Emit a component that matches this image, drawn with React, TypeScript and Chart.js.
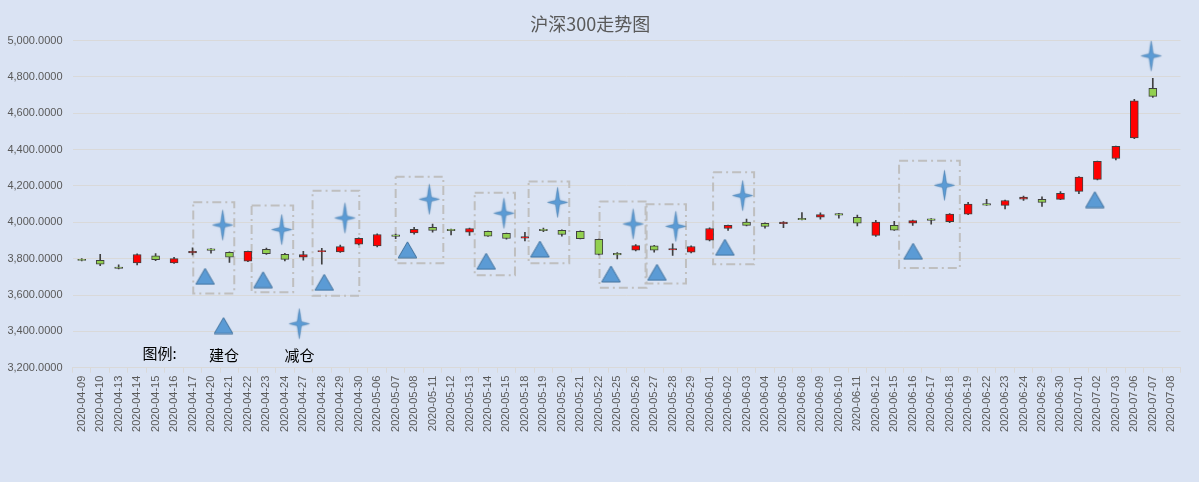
import { useEffect, useRef } from "react";
import { Chart, registerables } from "chart.js";

Chart.register(...registerables);

// trading days on the category axis
const dates = [
  "2020-04-09", "2020-04-10", "2020-04-13", "2020-04-14", "2020-04-15", "2020-04-16",
  "2020-04-17", "2020-04-20", "2020-04-21", "2020-04-22", "2020-04-23", "2020-04-24",
  "2020-04-27", "2020-04-28", "2020-04-29", "2020-04-30", "2020-05-06", "2020-05-07",
  "2020-05-08", "2020-05-11", "2020-05-12", "2020-05-13", "2020-05-14", "2020-05-15",
  "2020-05-18", "2020-05-19", "2020-05-20", "2020-05-21", "2020-05-22", "2020-05-25",
  "2020-05-26", "2020-05-27", "2020-05-28", "2020-05-29", "2020-06-01", "2020-06-02",
  "2020-06-03", "2020-06-04", "2020-06-05", "2020-06-08", "2020-06-09", "2020-06-10",
  "2020-06-11", "2020-06-12", "2020-06-15", "2020-06-16", "2020-06-17", "2020-06-18",
  "2020-06-19", "2020-06-22", "2020-06-23", "2020-06-24", "2020-06-29", "2020-06-30",
  "2020-07-01", "2020-07-02", "2020-07-03", "2020-07-06", "2020-07-07", "2020-07-08",
];

const openPrices = [
  3796, 3791, 3754, 3776, 3816, 3776, 3832, 3854, 3835, 3786, 3852, 3824,
  3808, 3838, 3837, 3880, 3870, 3931, 3942, 3972, 3962, 3946, 3950, 3940,
  3913, 3962, 3956, 3951, 3906, 3829, 3847, 3870, 3848, 3836, 3902, 3966,
  4002, 3994, 3992, 4022, 4029, 4048, 4028, 3928, 3984, 3996, 4019, 4004,
  4045, 4103, 4093, 4127, 4126, 4126, 4170, 4236, 4351, 4464, 4738, null,
];
const closePrices = [
  3791, 3770, 3746, 3823, 3795, 3800, 3841, 3846, 3808, 3840, 3828, 3796,
  3823, 3845, 3866, 3912, 3933, 3922, 3962, 3955, 3954, 3966, 3924, 3911,
  3922, 3954, 3933, 3910, 3823, 3821, 3872, 3847, 3856, 3867, 3966, 3983,
  3983, 3977, 4001, 4014, 4043, 4040, 3995, 4001, 3957, 4010, 4011, 4046,
  4100, 4095, 4120, 4139, 4109, 4160, 4249, 4335, 4418, 4668, 4693, null,
];
const highPrices = [
  3800, 3824, 3766, 3826, 3828, 3808, 3860, 3855, 3838, 3842, 3858, 3830,
  3840, 3857, 3875, 3915, 3936, 3935, 3972, 3990, 3963, 3969, 3952, 3941,
  3945, 3968, 3958, 3953, 3908, 3833, 3878, 3873, 3882, 3870, 3970, 3985,
  4018, 3997, 4004, 4053, 4052, 4049, 4040, 4011, 4006, 4012, 4020, 4048,
  4110, 4127, 4123, 4145, 4140, 4169, 4252, 4337, 4420, 4677, 4793, null,
];
const lowPrices = [
  3788, 3762, 3744, 3765, 3789, 3774, 3820, 3830, 3780, 3783, 3823, 3787,
  3792, 3770, 3834, 3876, 3865, 3910, 3935, 3946, 3930, 3928, 3922, 3907,
  3897, 3949, 3924, 3908, 3820, 3799, 3842, 3836, 3818, 3832, 3898, 3955,
  3980, 3968, 3970, 4013, 4018, 4023, 3980, 3923, 3955, 3983, 3990, 3998,
  4042, 4093, 4074, 4120, 4087, 4124, 4158, 4233, 4343, 4460, 4687, null,
];

// 建仓 (triangle) and 减仓 (star) markers, x in category-index units
const buildX = [6.68, 9.82, 13.13, 17.64, 21.9, 24.81, 28.66, 31.15, 34.83, 45.02, 54.86];
const buildY = [3703, 3684, 3670, 3849, 3786, 3853, 3716, 3725, 3863, 3841, 4125];
const reduceX = [7.63, 10.83, 14.25, 18.82, 22.86, 25.77, 29.86, 32.17, 35.79, 46.72, 57.91];
const reduceY = [3985, 3960, 4024, 4127, 4050, 4110, 3991, 3978, 4147, 4204, 4916];

// dashed frames around each trade
const frameLeft = [6.04, 9.2, 12.5, 17.0, 21.28, 24.2, 28.04, 30.53, 34.19, 44.26];
const frameRight = [8.26, 11.45, 15.03, 19.58, 23.46, 26.4, 30.59, 32.72, 36.41, 47.55];
const frameTop = [4110, 4092, 4174, 4251, 4163, 4224, 4114, 4099, 4276, 4339];
const frameBottom = [3609, 3615, 3596, 3775, 3709, 3775, 3640, 3664, 3769, 3749];

// legend drawn inside the plot
const legendTexts = ["图例:", "建仓", "减仓"];
const legendTextX = [4.21, 7.7, 11.79];
const legendTextY = [3278, 3268, 3268];
const legendBuild = { x: 7.68, y: 3432 };
const legendReduce = { x: 11.78, y: 3442 };

const RED = "#FF0000";
const GREEN = "#92D050";
const EDGE = "#404040";

function makeTriangle() {
  const c = document.createElement("canvas");
  c.width = 21;
  c.height = 18;
  const ctx = c.getContext("2d")!;
  ctx.beginPath();
  ctx.moveTo(10.5, 1);
  ctx.lineTo(19.8, 17);
  ctx.lineTo(1.2, 17);
  ctx.closePath();
  ctx.fillStyle = "#5B9BD5";
  ctx.fill();
  ctx.strokeStyle = "#41719C";
  ctx.lineWidth = 1;
  ctx.stroke();
  return c;
}

function makeStar() {
  const c = document.createElement("canvas");
  c.width = 23;
  c.height = 33;
  const ctx = c.getContext("2d")!;
  const cx = 11.5;
  const cy = 16.5;
  const a = 2;
  ctx.beginPath();
  ctx.moveTo(cx, cy - 15);
  ctx.lineTo(cx + a, cy - a);
  ctx.lineTo(cx + 10, cy);
  ctx.lineTo(cx + a, cy + a);
  ctx.lineTo(cx, cy + 15);
  ctx.lineTo(cx - a, cy + a);
  ctx.lineTo(cx - 10, cy);
  ctx.lineTo(cx - a, cy - a);
  ctx.closePath();
  ctx.shadowColor = "rgba(91,155,213,0.7)";
  ctx.shadowBlur = 2;
  ctx.fillStyle = "#5B9BD5";
  ctx.fill();
  ctx.shadowBlur = 0;
  ctx.strokeStyle = "rgba(65,113,156,0.5)";
  ctx.lineWidth = 0.8;
  ctx.stroke();
  return c;
}

const legendTextPlugin = {
  id: "legendText",
  afterDatasetsDraw(chart: any) {
    const { ctx } = chart;
    const xs = chart.scales.x2;
    const ys = chart.scales.y;
    ctx.save();
    ctx.fillStyle = "#000000";
    ctx.font = "15px 'Noto Sans CJK SC', sans-serif";
    ctx.textAlign = "center";
    ctx.textBaseline = "middle";
    legendTexts.forEach((t, i) => {
      ctx.fillText(t, xs.getPixelForValue(legendTextX[i]), ys.getPixelForValue(legendTextY[i]));
    });
    ctx.restore();
  },
};

const App = () => {
  const chartRef = useRef<HTMLCanvasElement | null>(null);
  const chartInstance = useRef<Chart | null>(null);

  useEffect(() => {
    if (!chartRef.current) return;
    if (chartInstance.current) chartInstance.current.destroy();

    const triangle = makeTriangle();
    const star = makeStar();

    const bodies = dates.map((_, i) =>
      openPrices[i] == null ? null : [openPrices[i], closePrices[i]]
    );
    const wicks = dates.map((_, i) =>
      highPrices[i] == null ? null : [lowPrices[i], highPrices[i]]
    );
    const bodyColors = dates.map((_, i) =>
      (closePrices[i] ?? 0) >= (openPrices[i] ?? 0) ? RED : GREEN
    );

    const framePoints: any[] = [];
    frameLeft.forEach((l, i) => {
      const r = frameRight[i];
      const t = frameTop[i];
      const b = frameBottom[i];
      framePoints.push(
        { x: l, y: t }, { x: r, y: t }, { x: r, y: b }, { x: l, y: b }, { x: l, y: t },
        { x: l, y: null }
      );
    });

    const ctx = chartRef.current.getContext("2d");
    if (!ctx) return;
    Chart.defaults.font.family = "'Liberation Sans', 'Noto Sans CJK SC', sans-serif";

    chartInstance.current = new Chart(ctx, {
      type: "bar",
      data: {
        labels: dates,
        datasets: [
          {
            type: "line",
            label: "建仓",
            xAxisID: "x2",
            data: [...buildX.map((x, i) => ({ x, y: buildY[i] })), legendBuild],
            showLine: false,
            pointStyle: triangle,
            order: 0,
          } as any,
          {
            type: "line",
            label: "减仓",
            xAxisID: "x2",
            data: [...reduceX.map((x, i) => ({ x, y: reduceY[i] })), legendReduce],
            showLine: false,
            pointStyle: star,
            order: 0,
          } as any,
          {
            type: "line",
            label: "frames",
            xAxisID: "x2",
            data: framePoints,
            borderColor: "#BFBFBF",
            borderWidth: 2,
            borderDash: [9, 4, 2, 4],
            pointRadius: 0,
            spanGaps: false,
            fill: false,
            order: 3,
          } as any,
          {
            type: "bar",
            label: "body",
            data: bodies as any,
            backgroundColor: bodyColors,
            borderColor: EDGE,
            borderWidth: 1,
            borderSkipped: false,
            barThickness: 8,
            grouped: false,
            order: 1,
          },
          {
            type: "bar",
            label: "wick",
            data: wicks as any,
            backgroundColor: EDGE,
            borderWidth: 0,
            barThickness: 1,
            grouped: false,
            order: 2,
          },
        ],
      },
      options: {
        animation: false,
        responsive: false,
        layout: { padding: { left: 0, right: 18.5, top: 0, bottom: 0 } },
        plugins: {
          legend: { display: false },
          tooltip: { enabled: false },
          title: {
            display: true,
            text: "沪深300走势图",
            color: "#595959",
            font: { size: 18, weight: "normal", family: "'Noto Sans CJK SC', sans-serif" },
            padding: { top: 13, bottom: 6 },
          },
        },
        scales: {
          x: {
            type: "category",
            offset: true,
            afterFit: (s: any) => {
              s.height = 114.3;
            },
            grid: {
              drawOnChartArea: false,
              offset: true,
              tickLength: 5,
              color: "#D9D9D9",
            },
            border: { display: true, color: "#D9D9D9" },
            ticks: {
              autoSkip: false,
              maxRotation: 90,
              minRotation: 90,
              color: "#595959",
              padding: 3,
              font: { size: 11 },
            },
          },
          x2: {
            type: "linear",
            min: -0.5,
            max: dates.length - 0.5,
            offset: false,
            grid: { offset: false },
            display: false,
          },
          y: {
            min: 3200,
            max: 5000,
            afterFit: (s: any) => {
              s.width = 72.5;
            },
            border: { display: false },
            grid: { color: "#D9D9D9", drawTicks: false },
            ticks: {
              stepSize: 200,
              padding: 10,
              color: "#595959",
              font: { size: 11 },
              callback: (v: any) =>
                Number(v).toLocaleString("en-US", {
                  minimumFractionDigits: 4,
                  maximumFractionDigits: 4,
                }),
            },
          },
        },
      },
      plugins: [legendTextPlugin],
    });

    return () => {
      if (chartInstance.current) {
        chartInstance.current.destroy();
        chartInstance.current = null;
      }
    };
  }, []);

  return (
    <div
      style={{
        position: "fixed",
        left: 0,
        top: 0,
        width: 1199,
        height: 482,
        background: "#DAE3F3",
      }}
    >
      <canvas ref={chartRef} width={1199} height={482}></canvas>
    </div>
  );
};

export default App;
